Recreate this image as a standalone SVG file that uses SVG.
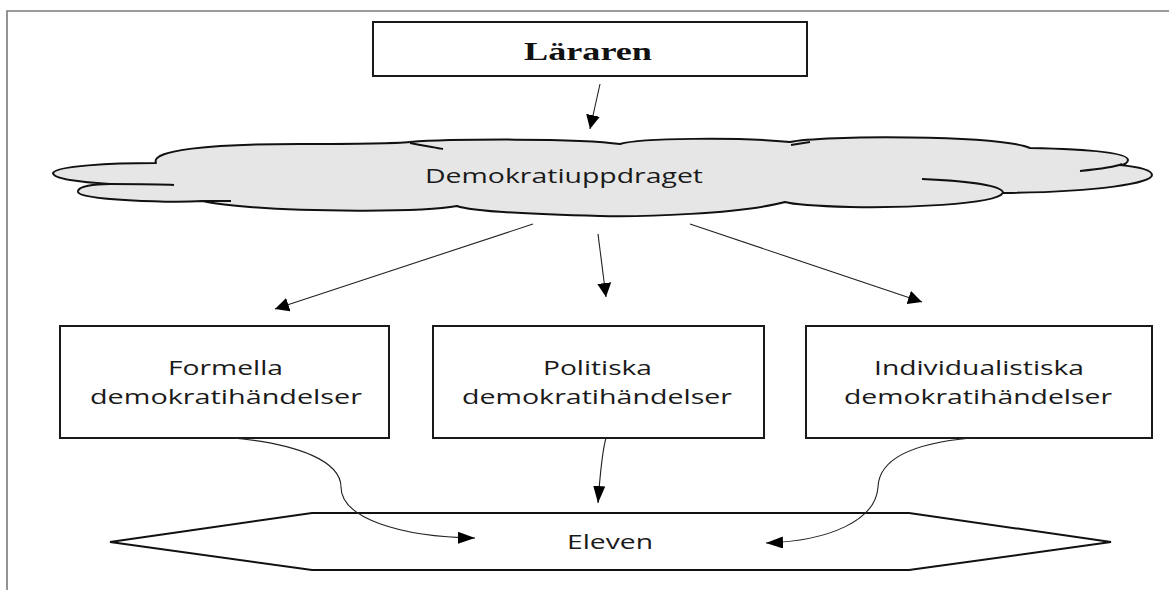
<svg xmlns="http://www.w3.org/2000/svg" width="1169" height="590" viewBox="0 0 1169 590">
<style>
.box{fill:#fff;stroke:#1a1a1a;stroke-width:2}
.conn{fill:none;stroke:#222;stroke-width:1.1}
.lbl{font-family:"Open Sans","Liberation Sans",sans-serif;font-size:20px;fill:#1a1a1a}
.cloudline{fill:none;stroke:#111;stroke-width:2}
</style>
<defs>
<marker id="ah" viewBox="0 0 14 14" refX="14" refY="7" markerWidth="14" markerHeight="14" markerUnits="userSpaceOnUse" orient="auto">
<path d="M0,0 L14,7 L0,14 Z" fill="#000"/>
</marker>
<marker id="ahc" viewBox="0 0 17 12" refX="17" refY="6" markerWidth="17" markerHeight="12" markerUnits="userSpaceOnUse" orient="auto">
<path d="M0,0 L17,6 L0,12 Z" fill="#000"/>
</marker>
</defs>
<rect x="0" y="0" width="1169" height="590" fill="#fff"/>
<path d="M7,590 L7,11 L1169,11" fill="none" stroke="#7a7a7a" stroke-width="1.6"/>

<g id="lararen">
<rect class="box" x="373" y="22" width="434" height="54"/>
<text x="524" y="60" font-family="'Liberation Serif','Times New Roman',serif" font-weight="bold" font-size="25" textLength="128" lengthAdjust="spacingAndGlyphs" fill="#111">Läraren</text>
</g>

<g id="demokratiuppdraget">
<path d="M53,173 C56,166 110,163 156,163 C150,150 210,144 300,144 C350,144 390,144 410,142 C450,139 580,138 620,144 C640,138 740,137 790,142 C820,135 1000,135 1030,148 C1080,149 1128,152 1128,160 C1128,163 1124,165 1120,165 C1140,167 1152,170 1152,175 C1152,183 1100,192 1003,193 C995,205 900,208 850,207 C815,206 795,205 785,202 C740,214 640,217 600,216 C520,214 470,211 457,206 C420,213 300,211 250,207 C225,205 210,203 203,201 C170,203 80,200 78,192 C77,186 95,184 110,184 C80,182 53,179 53,173 Z" fill="#e6e6e6" stroke="#111" stroke-width="2" stroke-linejoin="round"/>
<path class="cloudline" d="M110,184 C140,184 160,184 174,185"/>
<path class="cloudline" d="M203,201 C215,201 224,201 231,201"/>
<path class="cloudline" d="M410,143 C420,145 432,147 443,149"/>
<path class="cloudline" d="M791,145 L810,142"/>
<path class="cloudline" d="M1080,171 C1100,169 1115,167 1122,164"/>
<path class="cloudline" d="M922,179 C970,181 1003,186 1003,193"/>
<text class="lbl" x="425" y="183" textLength="278" lengthAdjust="spacingAndGlyphs">Demokratiuppdraget</text>
</g>

<g id="formella">
<rect class="box" x="60" y="326" width="329" height="112"/>
<text class="lbl" x="168" y="375" textLength="115" lengthAdjust="spacingAndGlyphs">Formella</text>
<text class="lbl" x="90" y="404" textLength="272" lengthAdjust="spacingAndGlyphs">demokratihändelser</text>
</g>

<g id="politiska">
<rect class="box" x="433" y="326" width="331" height="112"/>
<text class="lbl" x="543" y="375" textLength="109" lengthAdjust="spacingAndGlyphs">Politiska</text>
<text class="lbl" x="462" y="404" textLength="270" lengthAdjust="spacingAndGlyphs">demokratihändelser</text>
</g>

<g id="individualistiska">
<rect class="box" x="806" y="326" width="346" height="112"/>
<text class="lbl" x="874" y="375" textLength="210" lengthAdjust="spacingAndGlyphs">Individualistiska</text>
<text class="lbl" x="844" y="404" textLength="268" lengthAdjust="spacingAndGlyphs">demokratihändelser</text>
</g>

<g id="eleven">
<polygon points="110,542 312,513 909,513 1111,542 909,570 312,570" fill="#fff" stroke="#111" stroke-width="2"/>
<text class="lbl" x="567" y="549" textLength="86" lengthAdjust="spacingAndGlyphs">Eleven</text>
</g>

<g id="connectors">
<path class="conn" d="M600,84 L590,129" marker-end="url(#ah)"/>
<path class="conn" d="M533,224 L275,309" marker-end="url(#ah)"/>
<path class="conn" d="M598,234 L606,297" marker-end="url(#ah)"/>
<path class="conn" d="M690,224 L922,302" marker-end="url(#ah)"/>
<path class="conn" d="M233,438 C300,444 341,462 341,487 C341,518 400,537 475,538" marker-end="url(#ahc)"/>
<path class="conn" d="M606,438 C602,452 600,475 598,503" marker-end="url(#ahc)"/>
<path class="conn" d="M971,438 C905,444 879,462 878,487 C876,520 830,541 766,543" marker-end="url(#ahc)"/>
</g>
</svg>
